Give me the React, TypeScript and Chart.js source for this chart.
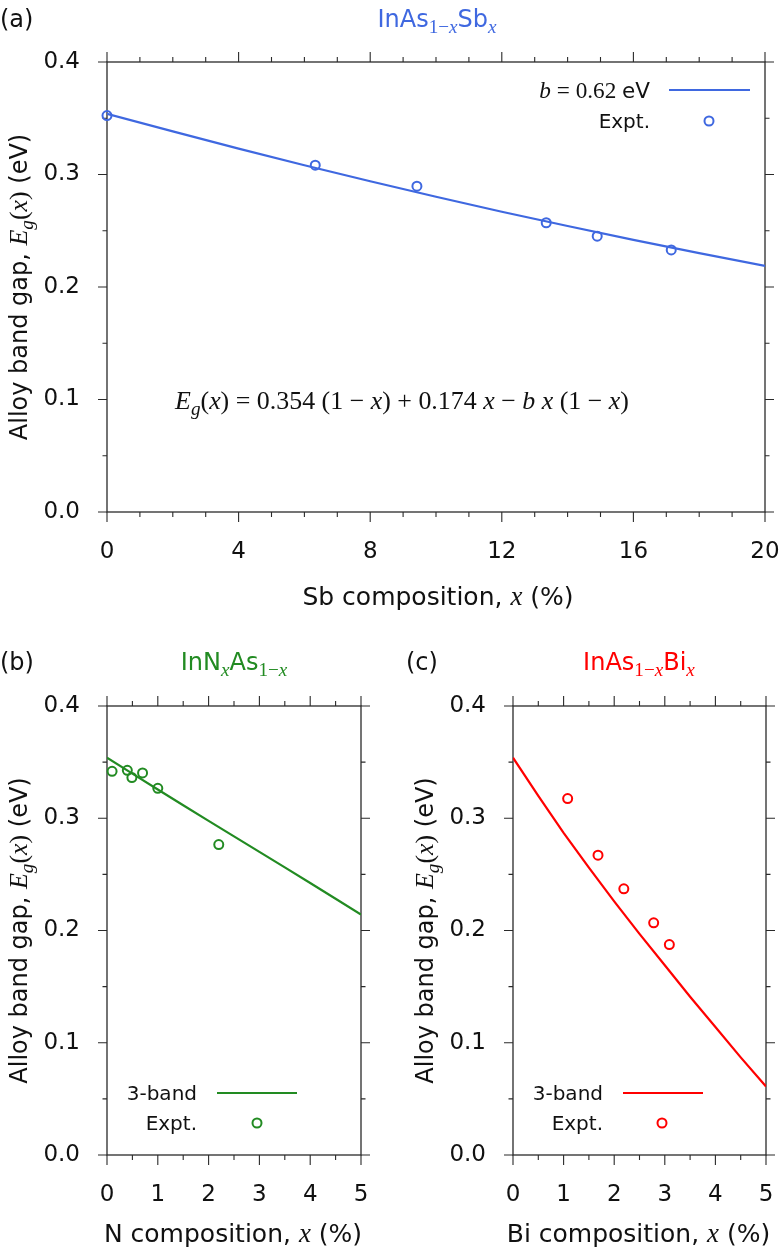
import React, { useEffect, useRef } from 'react';
import { Chart, registerables } from 'chart.js';
Chart.register(...registerables);

// ---------- DATA ----------
// (a) InAs(1-x)Sb(x)
const sbCurveX = [0, 2, 4, 6, 8, 10, 12, 14, 16, 18, 20];
const sbCurveY = [0.354, 0.3383, 0.323, 0.3082, 0.294, 0.2802, 0.2669, 0.2542, 0.2419, 0.2301, 0.2188];
const sbExptX = [0, 6.33, 9.42, 13.35, 14.9, 17.15];
const sbExptY = [0.3524, 0.3083, 0.2896, 0.2571, 0.2452, 0.233];

// (b) InN(x)As(1-x)
const nCurveX = [0, 0.5, 1, 1.5, 2, 2.5, 3, 3.5, 4, 4.5, 5];
const nCurveY = [0.354, 0.3397, 0.3256, 0.3116, 0.2977, 0.2838, 0.27, 0.2562, 0.2423, 0.2283, 0.2142];
const nExptX = [0.1, 0.4, 0.49, 0.7, 1.0, 2.2];
const nExptY = [0.3418, 0.3427, 0.3362, 0.3404, 0.3267, 0.2766];

// (c) InAs(1-x)Bi(x)
const biCurveX = [0, 0.5, 1, 1.5, 2, 2.5, 3, 3.5, 4, 4.5, 5];
const biCurveY = [0.354, 0.32, 0.287, 0.256, 0.226, 0.197, 0.169, 0.141, 0.114, 0.087, 0.061];
const biExptX = [1.08, 1.68, 2.19, 2.78, 3.09];
const biExptY = [0.3175, 0.2671, 0.2371, 0.2068, 0.1875];

const yTickLabels = ['0.0', '0.1', '0.2', '0.3', '0.4'];
const xTicksA = ['0', '4', '8', '12', '16', '20'];
const xTicksBC = ['0', '1', '2', '3', '4', '5'];

// ---------- STYLE ----------
const SANS = '"DejaVu Sans", "Noto Sans", sans-serif';
const SERIF = '"Liberation Serif", "DejaVu Serif", serif';
const AXIS = '#2a2a2a';
const TEXT = '#111111';
const BLUE = '#3f68e0';
const GREEN = '#228b22';
const RED = '#ff0000';

type Seg = { t: string; f?: 'sans' | 'serif' | 'it'; sub?: boolean };

function segFont(s: Seg, size: number) {
  const sz = s.sub ? size * 0.74 : size;
  if (s.f === 'it') return `italic ${sz * 1.08}px ${SERIF}`;
  if (s.f === 'serif') return `${sz * 1.08}px ${SERIF}`;
  return `${sz}px ${SANS}`;
}

function drawRich(ctx: CanvasRenderingContext2D, segs: Seg[], x: number, y: number, size: number,
  align: 'left' | 'center' | 'right', color: string, rotate = false) {
  ctx.save();
  ctx.translate(x, y);
  if (rotate) ctx.rotate(-Math.PI / 2);
  ctx.textBaseline = 'alphabetic';
  ctx.textAlign = 'left';
  let total = 0;
  const ws = segs.map((s) => {
    ctx.font = segFont(s, size);
    const w = ctx.measureText(s.t).width;
    total += w;
    return w;
  });
  let cx = align === 'center' ? -total / 2 : align === 'right' ? -total : 0;
  const base = size * 0.36;
  ctx.fillStyle = color;
  segs.forEach((s, i) => {
    ctx.font = segFont(s, size);
    ctx.fillText(s.t, cx, base + (s.sub ? size * 0.28 : 0));
    cx += ws[i];
  });
  ctx.restore();
}

function circle(ctx: CanvasRenderingContext2D, x: number, y: number, color: string) {
  ctx.save();
  ctx.beginPath();
  ctx.arc(x, y, 4.5, 0, Math.PI * 2);
  ctx.strokeStyle = color;
  ctx.lineWidth = 2;
  ctx.stroke();
  ctx.restore();
}

const deco = {
  id: 'deco',
  beforeDatasetsDraw(chart: any) {
    const o = chart.options.plugins.deco;
    const ctx: CanvasRenderingContext2D = chart.ctx;
    const a = chart.chartArea;
    const xs = chart.scales.x;
    const ys = chart.scales.y;
    ctx.save();
    ctx.strokeStyle = AXIS;
    ctx.lineWidth = 1.3;
    ctx.strokeRect(a.left, a.top, a.right - a.left, a.bottom - a.top);
    ctx.lineWidth = 1.1;
    const nx = Math.round((o.xMax - o.xMin) / o.xMinor);
    for (let i = 0; i <= nx; i++) {
      const v = o.xMin + i * o.xMinor;
      const px = xs.getPixelForValue(v);
      const r = v / o.xMajor;
      const L = Math.abs(r - Math.round(r)) < 1e-6 ? 10 : 5;
      ctx.beginPath();
      ctx.moveTo(px, a.bottom); ctx.lineTo(px, a.bottom + L);
      ctx.moveTo(px, a.top); ctx.lineTo(px, a.top - L);
      ctx.stroke();
    }
    const ny = 8;
    for (let i = 0; i <= ny; i++) {
      const v = i * 0.05;
      const py = ys.getPixelForValue(v);
      const L = i % 2 === 0 ? 9 : 4.5;
      ctx.beginPath();
      ctx.moveTo(a.left, py); ctx.lineTo(a.left - L, py);
      ctx.moveTo(a.right, py); ctx.lineTo(a.right + L, py);
      ctx.stroke();
    }
    ctx.restore();
  },
  afterDraw(chart: any) {
    const o = chart.options.plugins.deco;
    const ctx: CanvasRenderingContext2D = chart.ctx;
    const a = chart.chartArea;
    const xs = chart.scales.x;
    // x tick labels
    (o.xLabels as string[]).forEach((lab) => {
      drawRich(ctx, [{ t: lab }], xs.getPixelForValue(Number(lab)), a.bottom + 38, 23, 'center', TEXT);
    });
    // panel label
    drawRich(ctx, [{ t: o.label }], o.labelX, o.titleY, 24, 'left', TEXT);
    // title
    drawRich(ctx, o.title, o.titleX, o.titleY, 24, 'center', o.color);
    // axis titles
    drawRich(ctx, o.xTitle, (a.left + a.right) / 2 + o.xTitleShift, o.xTitleY, 25, 'center', TEXT);
    drawRich(ctx, [
      { t: 'Alloy band gap, ' }, { t: 'E', f: 'it' }, { t: 'g', f: 'it', sub: true },
      { t: '(', f: 'serif' }, { t: 'x', f: 'it' }, { t: ')', f: 'serif' }, { t: ' (eV)' },
    ], o.yTitleX, (a.top + a.bottom) / 2, 24, 'center', TEXT, true);
    // legend
    const lg = o.legend;
    drawRich(ctx, lg.lineLabel, lg.textRight, lg.y1, lg.size1, 'right', TEXT);
    drawRich(ctx, [{ t: 'Expt.' }], lg.textRight, lg.y2, lg.size2, 'right', TEXT);
    ctx.save();
    ctx.strokeStyle = o.color;
    ctx.lineWidth = 2.2;
    ctx.beginPath();
    ctx.moveTo(lg.lineX0, lg.y1); ctx.lineTo(lg.lineX1, lg.y1);
    ctx.stroke();
    ctx.restore();
    circle(ctx, lg.markerX, lg.y2, o.color);
    if (o.equation) {
      drawRich(ctx, o.equation, o.eqX, o.eqY, 24, 'center', TEXT);
    }
  },
};

type PanelCfg = {
  box: { left: number; top: number; width: number; height: number };
  area: { left: number; right: number; top: number; bottom: number };
  curveX: number[]; curveY: number[]; exptX: number[]; exptY: number[];
  deco: any;
};

function Panel({ cfg }: { cfg: PanelCfg }) {
  const ref = useRef<HTMLCanvasElement>(null);
  useEffect(() => {
    const { box, area, deco: d } = cfg;
    const chart = new Chart(ref.current!, {
      type: 'line',
      data: {
        datasets: [
          {
            data: cfg.curveX.map((x, i) => ({ x, y: cfg.curveY[i] })),
            borderColor: d.color, borderWidth: 2.2, pointRadius: 0, tension: 0, fill: false,
          },
          {
            data: cfg.exptX.map((x, i) => ({ x, y: cfg.exptY[i] })),
            showLine: false, borderColor: d.color, backgroundColor: 'rgba(0,0,0,0)',
            pointRadius: 4.5, pointBorderWidth: 2, pointBorderColor: d.color,
            pointBackgroundColor: 'rgba(0,0,0,0)', clip: false as any,
          },
        ],
      },
      options: {
        responsive: false,
        maintainAspectRatio: false,
        animation: false,
        events: [],
        layout: { padding: { left: 0, top: area.top, right: box.width - area.right, bottom: 0 } },
        plugins: { legend: { display: false }, tooltip: { enabled: false }, deco: d } as any,
        scales: {
          x: {
            type: 'linear', min: d.xMin, max: d.xMax,
            afterFit: (s: any) => { s.height = box.height - area.bottom; },
            grid: { display: false, drawTicks: false }, border: { display: false },
            ticks: { display: false, stepSize: d.xMajor },
          },
          y: {
            type: 'linear', min: 0, max: 0.4,
            afterFit: (s: any) => { s.width = area.left; },
            grid: { display: false, drawTicks: false }, border: { display: false },
            ticks: {
              stepSize: 0.1, padding: 27, color: TEXT, font: { family: SANS, size: 23 },
              callback: (v: any) => yTickLabels[Math.round(Number(v) * 10)] ?? '',
            },
          },
        },
      },
      plugins: [deco as any],
    });
    return () => chart.destroy();
  }, []);
  const { box } = cfg;
  return (
    <div style={{ position: 'absolute', left: box.left, top: box.top, width: box.width, height: box.height }}>
      <canvas ref={ref} width={box.width} height={box.height} style={{ width: box.width, height: box.height, display: 'block' }} />
    </div>
  );
}

const panelA: PanelCfg = {
  box: { left: 0, top: 0, width: 781, height: 620 },
  area: { left: 107, right: 765, top: 62, bottom: 512 },
  curveX: sbCurveX, curveY: sbCurveY, exptX: sbExptX, exptY: sbExptY,
  deco: {
    color: BLUE, xMin: 0, xMax: 20, xMinor: 1, xMajor: 4, xLabels: xTicksA,
    label: '(a)', labelX: 0, titleX: 437, titleY: 18,
    title: [{ t: 'InAs' }, { t: '1−', f: 'serif', sub: true }, { t: 'x', f: 'it', sub: true }, { t: 'Sb' }, { t: 'x', f: 'it', sub: true }],
    xTitle: [{ t: 'Sb composition, ' }, { t: 'x', f: 'it' }, { t: ' (%)' }], xTitleShift: 2, xTitleY: 596,
    yTitleX: 18,
    legend: {
      size1: 21.5, size2: 20, textRight: 650, lineX0: 669, lineX1: 750, y1: 90, y2: 121, markerX: 709,
      lineLabel: [{ t: 'b', f: 'it' }, { t: ' = 0.62 ', f: 'serif' }, { t: 'eV' }],
    },
    equation: [
      { t: 'E', f: 'it' }, { t: 'g', f: 'it', sub: true }, { t: '(', f: 'serif' }, { t: 'x', f: 'it' },
      { t: ') = 0.354 (1 − ', f: 'serif' }, { t: 'x', f: 'it' }, { t: ') + 0.174 ', f: 'serif' }, { t: 'x', f: 'it' },
      { t: ' − ', f: 'serif' }, { t: 'b', f: 'it' }, { t: ' ', f: 'serif' }, { t: 'x', f: 'it' },
      { t: ' (1 − ', f: 'serif' }, { t: 'x', f: 'it' }, { t: ')', f: 'serif' },
    ],
    eqX: 402, eqY: 400,
  },
};

const panelB: PanelCfg = {
  box: { left: 0, top: 630, width: 390, height: 624 },
  area: { left: 107, right: 361, top: 76, bottom: 525 },
  curveX: nCurveX, curveY: nCurveY, exptX: nExptX, exptY: nExptY,
  deco: {
    color: GREEN, xMin: 0, xMax: 5, xMinor: 0.5, xMajor: 1, xLabels: xTicksBC,
    label: '(b)', labelX: 0, titleX: 234, titleY: 31,
    title: [{ t: 'InN' }, { t: 'x', f: 'it', sub: true }, { t: 'As' }, { t: '1−', f: 'serif', sub: true }, { t: 'x', f: 'it', sub: true }],
    xTitle: [{ t: 'N composition, ' }, { t: 'x', f: 'it' }, { t: ' (%)' }], xTitleShift: -1, xTitleY: 603,
    yTitleX: 18,
    legend: {
      size1: 20, size2: 20, textRight: 197, lineX0: 217, lineX1: 297, y1: 463, y2: 493, markerX: 257,
      lineLabel: [{ t: '3-band' }],
    },
  },
};

const panelC: PanelCfg = {
  box: { left: 390, top: 630, width: 391, height: 624 },
  area: { left: 123, right: 376, top: 76, bottom: 525 },
  curveX: biCurveX, curveY: biCurveY, exptX: biExptX, exptY: biExptY,
  deco: {
    color: RED, xMin: 0, xMax: 5, xMinor: 0.5, xMajor: 1, xLabels: xTicksBC,
    label: '(c)', labelX: 16, titleX: 249, titleY: 31,
    title: [{ t: 'InAs' }, { t: '1−', f: 'serif', sub: true }, { t: 'x', f: 'it', sub: true }, { t: 'Bi' }, { t: 'x', f: 'it', sub: true }],
    xTitle: [{ t: 'Bi composition, ' }, { t: 'x', f: 'it' }, { t: ' (%)' }], xTitleShift: -1, xTitleY: 603,
    yTitleX: 34,
    legend: {
      size1: 20, size2: 20, textRight: 213, lineX0: 233, lineX1: 313, y1: 463, y2: 493, markerX: 272,
      lineLabel: [{ t: '3-band' }],
    },
  },
};

export default function App() {
  return (
    <div style={{ position: 'absolute', left: 0, top: 0, width: 781, height: 1254, background: '#ffffff' }}>
      <Panel cfg={panelA} />
      <Panel cfg={panelB} />
      <Panel cfg={panelC} />
    </div>
  );
}
